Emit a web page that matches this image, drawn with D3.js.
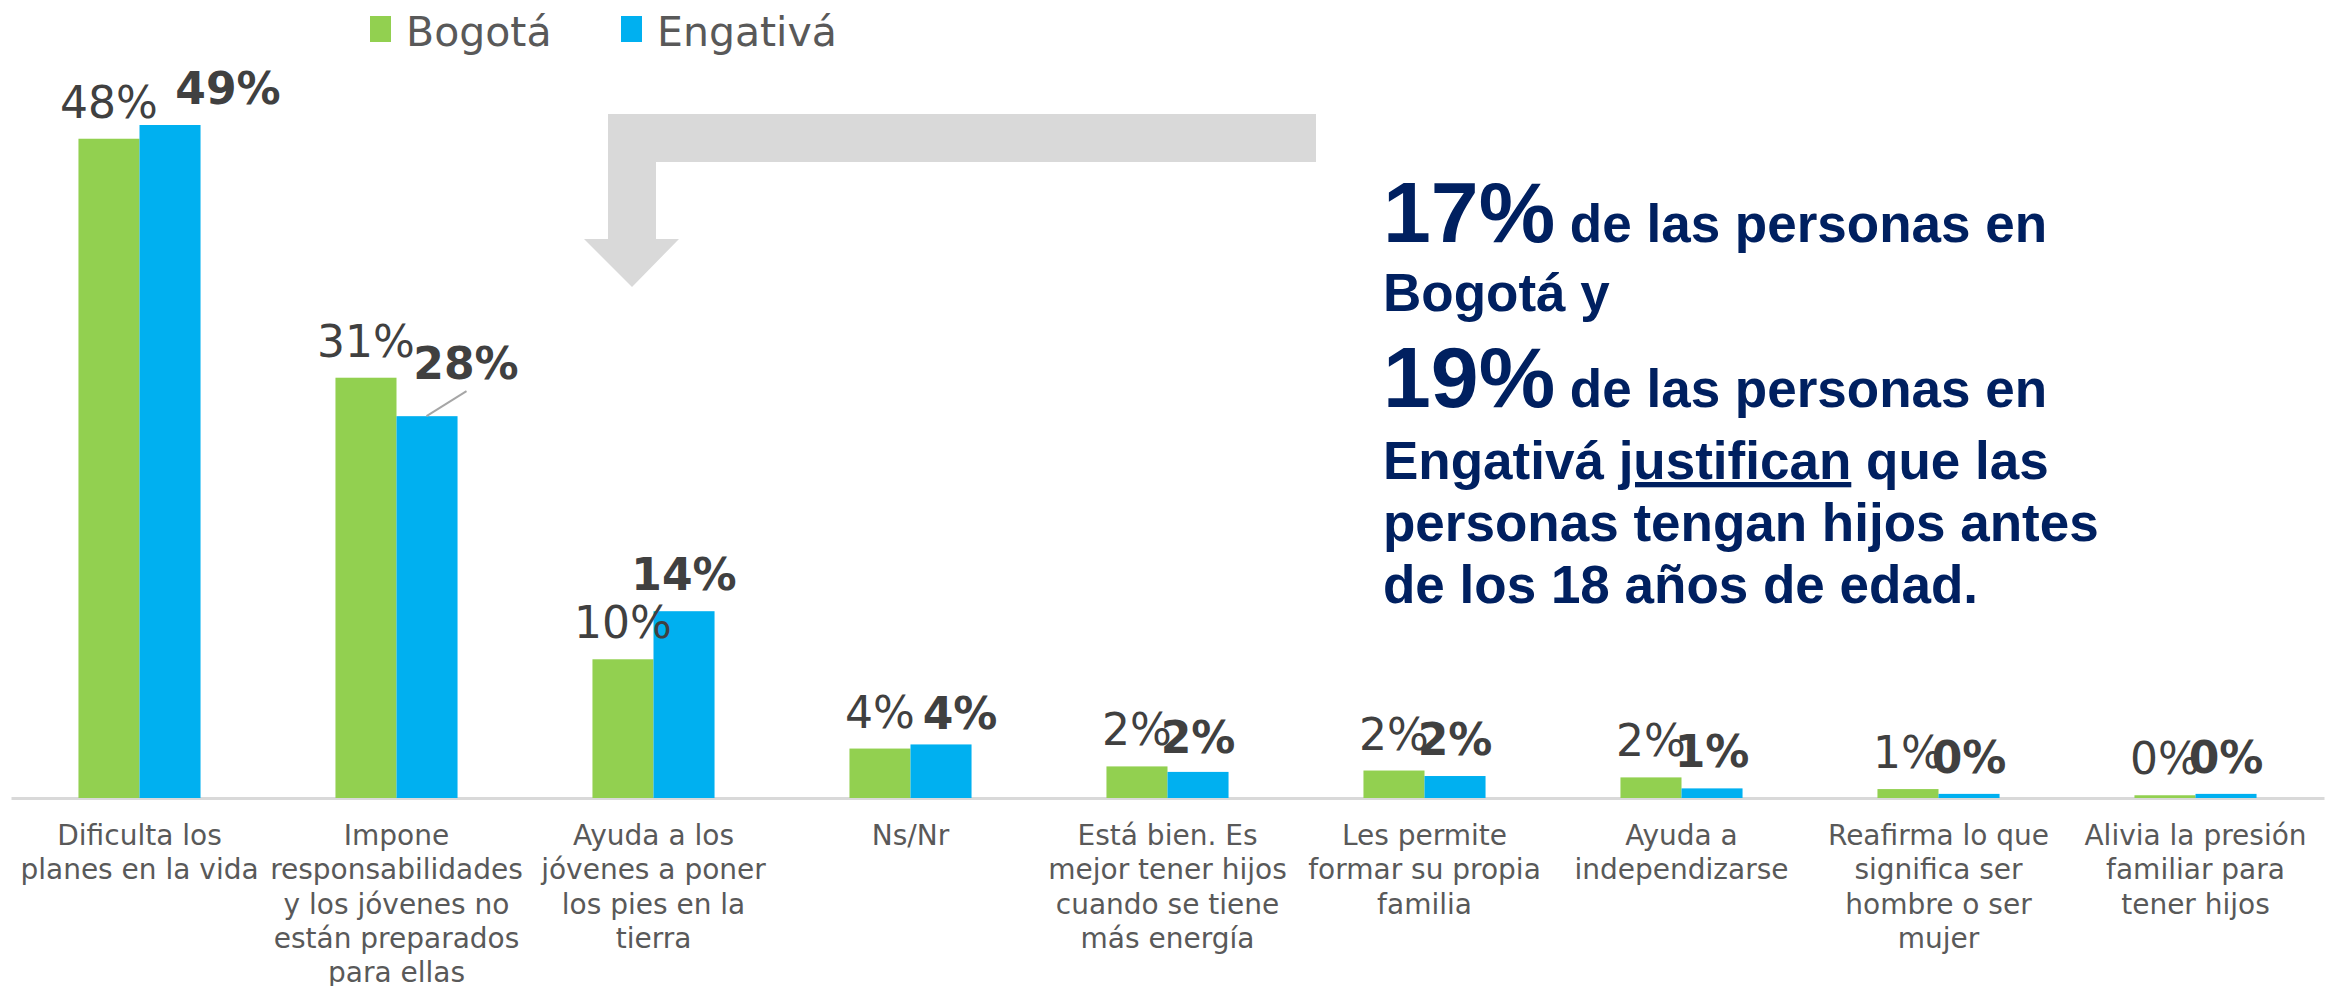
<!DOCTYPE html>
<html>
<head>
<meta charset="utf-8">
<script src="https://cdn.jsdelivr.net/npm/d3@7"></script>
<style>
  body { margin: 0; background: #fff; }
  text { font-family: "DejaVu Sans", Verdana, sans-serif; }
</style>
</head>
<body>
<div id="chart"></div>
<script>
// categories (already broken in lines like the original slide)
var categories = [
  ["Dificulta los", "planes en la vida"],
  ["Impone", "responsabilidades", "y los jóvenes no", "están preparados", "para ellas"],
  ["Ayuda a los", "jóvenes a poner", "los pies en la", "tierra"],
  ["Ns/Nr"],
  ["Está bien. Es", "mejor tener hijos", "cuando se tiene", "más energía"],
  ["Les permite", "formar su propia", "familia"],
  ["Ayuda a", "independizarse"],
  ["Reafirma lo que", "significa ser", "hombre o ser", "mujer"],
  ["Alivia la presión", "familiar para", "tener hijos"]
];
var series = ["Bogotá", "Engativá"];
var bogota   = [48, 30.6, 10.1, 3.6, 2.3, 2.0, 1.5, 0.65, 0.2];
var engativa = [49, 27.8, 13.6, 3.9, 1.9, 1.6, 0.7, 0.3, 0.3];

// manual nudges of the Engativá labels (as in the slide)
var engDx = [58, 39, 0, 19, 0, 0, 0, 0, 0];
var engDy = [0, -16, 0, 6, 2, 0, 0, 0, 0];

var colors = { "Bogotá": "#92d050", "Engativá": "#00b0f0" };

var W = 2331, H = 986;
var svg = d3.select('#chart')
  .append('svg')
    .attr('width', W)
    .attr('height', H);

var x0 = d3.scaleBand()
  .domain(d3.range(categories.length))
  .range([11, 2324])
  .paddingInner(0.525)
  .paddingOuter(0.2625);

var x1 = d3.scaleBand()
  .domain(series)
  .range([0, x0.bandwidth()]);

var y = d3.scaleLinear()
  .domain([0, 49])
  .range([798, 125]);

var rows = categories.map(function(c, i) {
  return { i: i, vals: [
    { s: "Bogotá", v: bogota[i] },
    { s: "Engativá", v: engativa[i] }
  ]};
});

// axis line + category labels
var axis = svg.append('g')
  .attr('transform', 'translate(0,' + y(0) + ')')
  .call(d3.axisBottom(x0).tickSize(0).tickFormat(''));
axis.select('.domain').attr('stroke', '#d9d9d9').attr('stroke-width', 3);

axis.selectAll('.tick').each(function(d) {
  var t = d3.select(this).append('text')
    .attr('fill', '#595959')
    .attr('font-size', 28)
    .attr('text-anchor', 'middle');
  categories[d].forEach(function(line, k) {
    t.append('tspan').attr('x', 0).attr('y', 47 + k * 34.3).text(line);
  });
});

// bars
var groups = svg.selectAll('.grp')
  .data(rows)
  .enter().append('g')
    .attr('class', 'grp')
    .attr('transform', function(d) { return 'translate(' + x0(d.i) + ',0)'; });

groups.selectAll('rect')
  .data(function(d) { return d.vals; })
  .enter().append('rect')
    .attr('x', function(d) { return x1(d.s); })
    .attr('y', function(d) { return y(d.v); })
    .attr('width', x1.bandwidth())
    .attr('height', function(d) { return y(0) - y(d.v); })
    .attr('fill', function(d) { return colors[d.s]; });

// labels Bogotá (regular)
groups.append('text')
  .attr('x', x1('Bogotá') + x1.bandwidth() / 2)
  .attr('y', function(d) { return y(d.vals[0].v) - 21; })
  .attr('text-anchor', 'middle')
  .attr('font-size', 44)
  .attr('fill', '#404040')
  .text(function(d) { return Math.round(d.vals[0].v) + '%'; });

// leader line for 28%
groups.filter(function(d) { return d.i === 1; })
  .append('line')
    .attr('x1', x1('Engativá') + 30)
    .attr('y1', function(d) { return y(d.vals[1].v); })
    .attr('x2', x1('Engativá') + 70)
    .attr('y2', function(d) { return y(d.vals[1].v) - 25; })
    .attr('stroke', '#a6a6a6')
    .attr('stroke-width', 2);

// labels Engativá (bold)
groups.append('text')
  .attr('x', function(d) { return x1('Engativá') + x1.bandwidth() / 2 + engDx[d.i]; })
  .attr('y', function(d) { return y(d.vals[1].v) - 21 + engDy[d.i]; })
  .attr('text-anchor', 'middle')
  .attr('font-size', 44)
  .attr('font-weight', 'bold')
  .attr('fill', '#404040')
  .text(function(d) { return Math.round(d.vals[1].v) + '%'; });

// legend
var legend = svg.append('g');
var legX = [370, 621];
series.forEach(function(s, k) {
  legend.append('rect')
    .attr('x', legX[k]).attr('y', 16)
    .attr('width', 21).attr('height', 26)
    .attr('fill', colors[s]);
  legend.append('text')
    .attr('x', legX[k] + 36).attr('y', 46)
    .attr('font-size', 41)
    .attr('fill', '#595959')
    .text(s);
});

// grey bent arrow
svg.append('path')
  .attr('d', 'M1316,114 L608,114 L608,239 L584,239 L632,287 L679,239 L656,239 L656,162 L1316,162 Z')
  .attr('fill', '#d9d9d9');

// annotation
var note = svg.append('g')
  .attr('fill', '#002060')
  .attr('font-weight', 'bold');

function noteLine(yy, parts) {
  var t = note.append('text').attr('x', 1383).attr('y', yy)
    .style('font-family', '"Liberation Sans", Arial, sans-serif');
  parts.forEach(function(p) {
    var ts = t.append('tspan').attr('font-size', p.size || 53).text(p.txt);
    if (p.u) ts.attr('text-decoration', 'underline');
  });
}
noteLine(242, [{ txt: "17%", size: 86 }, { txt: " de las personas en" }]);
noteLine(311, [{ txt: "Bogotá y" }]);
noteLine(407, [{ txt: "19%", size: 86 }, { txt: "  de las personas en" }]);
noteLine(479, [{ txt: "Engativá " }, { txt: "justifican", u: true }, { txt: " que las" }]);
noteLine(541, [{ txt: "personas tengan hijos antes" }]);
noteLine(603, [{ txt: "de los 18 años de edad." }]);
</script>
</body>
</html>
